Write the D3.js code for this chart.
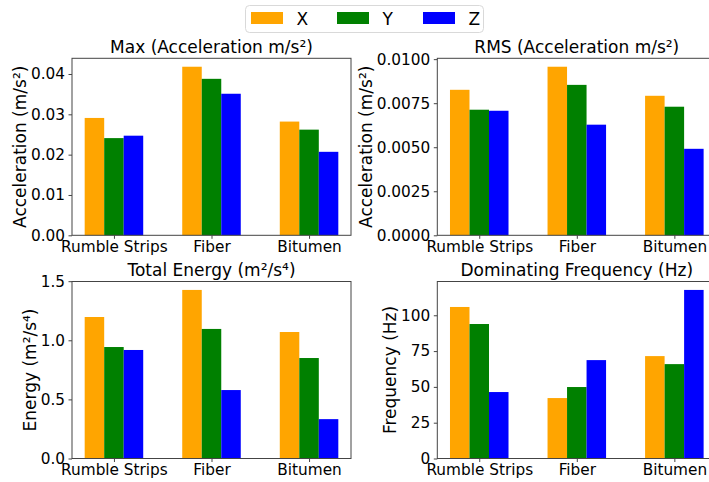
<!DOCTYPE html>
<html>
<head>
<meta charset="utf-8">
<script src="https://cdn.jsdelivr.net/npm/d3@7"></script>
<style>
  body { margin: 0; background: #fff; }
  svg { font-family: "DejaVu Sans", sans-serif; }
</style>
</head>
<body>
<div id="chart"></div>
<script>
// Surfaces and axes
const surfaces = ['Rumble Strips', 'Fiber', 'Bitumen'];
const axesNames = ['X', 'Y', 'Z'];
const axisColors = ['#FFA500', '#008000', '#0000FF'];

// Values per surface, in X / Y / Z order
const maxAccel = [
  [0.0291, 0.0241, 0.0247],
  [0.0418, 0.0388, 0.0351],
  [0.0282, 0.0262, 0.0207]
];
const rmsAccel = [
  [0.00826, 0.00713, 0.00707],
  [0.00957, 0.00854, 0.00628],
  [0.00792, 0.00730, 0.00491]
];
const totalEnergy = [
  [1.197, 0.943, 0.918],
  [1.426, 1.096, 0.579],
  [1.070, 0.850, 0.333]
];
const domFreq = [
  [105.8, 93.9, 46.4],
  [42.2, 49.9, 68.7],
  [71.5, 65.9, 117.7]
];

const maxTicks = [0, 0.01, 0.02, 0.03, 0.04];
const rmsTicks = [0, 0.0025, 0.005, 0.0075, 0.01];
const energyTicks = [0, 0.5, 1.0, 1.5];
const freqTicks = [0, 25, 50, 75, 100];

const panels = [
  { title: 'Max (Acceleration m/s²)', ylabel: 'Acceleration (m/s²)', data: maxAccel, ticks: maxTicks, fmt: d3.format('.2f'), x: 72, y: 58.3 },
  { title: 'RMS (Acceleration m/s²)', ylabel: 'Acceleration (m/s²)', data: rmsAccel, ticks: rmsTicks, fmt: d3.format('.4f'), x: 437.3, y: 58.3 },
  { title: 'Total Energy (m²/s⁴)', ylabel: 'Energy (m²/s⁴)', data: totalEnergy, ticks: energyTicks, fmt: d3.format('.1f'), x: 72, y: 281.5 },
  { title: 'Dominating Frequency (Hz)', ylabel: 'Frequency (Hz)', data: domFreq, ticks: freqTicks, fmt: d3.format('d'), x: 437.3, y: 281.5 }
];

const W = 709, H = 482;
const pw = 279, ph = 177;
const fs = 15.3;     // tick and legend text
const fsBig = 17;    // titles and axis labels
const spine = '#444';

const svg = d3.select('#chart').append('svg')
  .attr('width', W).attr('height', H)
  .attr('viewBox', [0, 0, W, H]);

panels.forEach(p => {
  const g = svg.append('g').attr('transform', `translate(${p.x},${p.y})`);

  // matplotlib-like x limits: bars at i-0.2..i+0.2, width 0.2, 5% margins
  const x = d3.scaleLinear().domain([-0.43, 2.43]).range([0, pw]);
  const ymax = d3.max(p.data.flat()) * 1.05;
  const y = d3.scaleLinear().domain([0, ymax]).range([ph, 0]);
  const bw = 0.2;

  // Bars
  p.data.forEach((vals, i) => {
    vals.forEach((v, j) => {
      const cx = i + (j - 1) * bw;
      g.append('rect')
        .attr('x', x(cx - bw / 2))
        .attr('width', x(cx + bw / 2) - x(cx - bw / 2))
        .attr('y', y(v))
        .attr('height', y(0) - y(v))
        .attr('fill', axisColors[j]);
    });
  });

  // Y axis
  const yAxis = g.append('g')
    .call(d3.axisLeft(y).tickValues(p.ticks).tickFormat(p.fmt).tickSize(3.5).tickPadding(3.5));
  yAxis.select('.domain').remove();
  yAxis.selectAll('line').attr('stroke', spine);
  yAxis.selectAll('text').attr('font-size', fs).attr('fill', '#000')
    .attr('font-family', '"DejaVu Sans", sans-serif');

  // X axis
  const xAxis = g.append('g').attr('transform', `translate(0,${ph})`)
    .call(d3.axisBottom(x).tickValues([0, 1, 2]).tickFormat(i => surfaces[i]).tickSize(3.5).tickPadding(2));
  xAxis.select('.domain').remove();
  xAxis.selectAll('line').attr('stroke', spine);
  xAxis.selectAll('text').attr('font-size', fs).attr('fill', '#000')
    .attr('font-family', '"DejaVu Sans", sans-serif');

  // Frame
  g.append('rect')
    .attr('x', 0).attr('y', 0).attr('width', pw).attr('height', ph)
    .attr('fill', 'none').attr('stroke', spine).attr('stroke-width', 1);

  // Title
  g.append('text')
    .attr('x', pw / 2).attr('y', -5.5)
    .attr('text-anchor', 'middle')
    .attr('font-size', fsBig)
    .text(p.title);

  // Y label, placed left of the tick labels
  const bb = yAxis.node().getBBox();
  g.append('text')
    .attr('transform', `translate(${bb.x - 5},${ph / 2}) rotate(-90)`)
    .attr('text-anchor', 'middle')
    .attr('font-size', fsBig)
    .text(p.ylabel);
});

// Legend
const leg = svg.append('g').attr('transform', 'translate(245,5)');
leg.append('rect')
  .attr('x', 0.5).attr('y', 0.5).attr('width', 238).attr('height', 27)
  .attr('rx', 4).attr('fill', '#fff').attr('stroke', '#d9d9d9');
axesNames.forEach((name, j) => {
  const e = leg.append('g').attr('transform', `translate(${6 + j * 86},0)`);
  e.append('rect').attr('x', 0).attr('y', 7).attr('width', 32).attr('height', 12).attr('fill', axisColors[j]);
  e.append('text').attr('x', 45.5).attr('y', 19.5).attr('font-size', fsBig).text(name);
});
</script>
</body>
</html>
